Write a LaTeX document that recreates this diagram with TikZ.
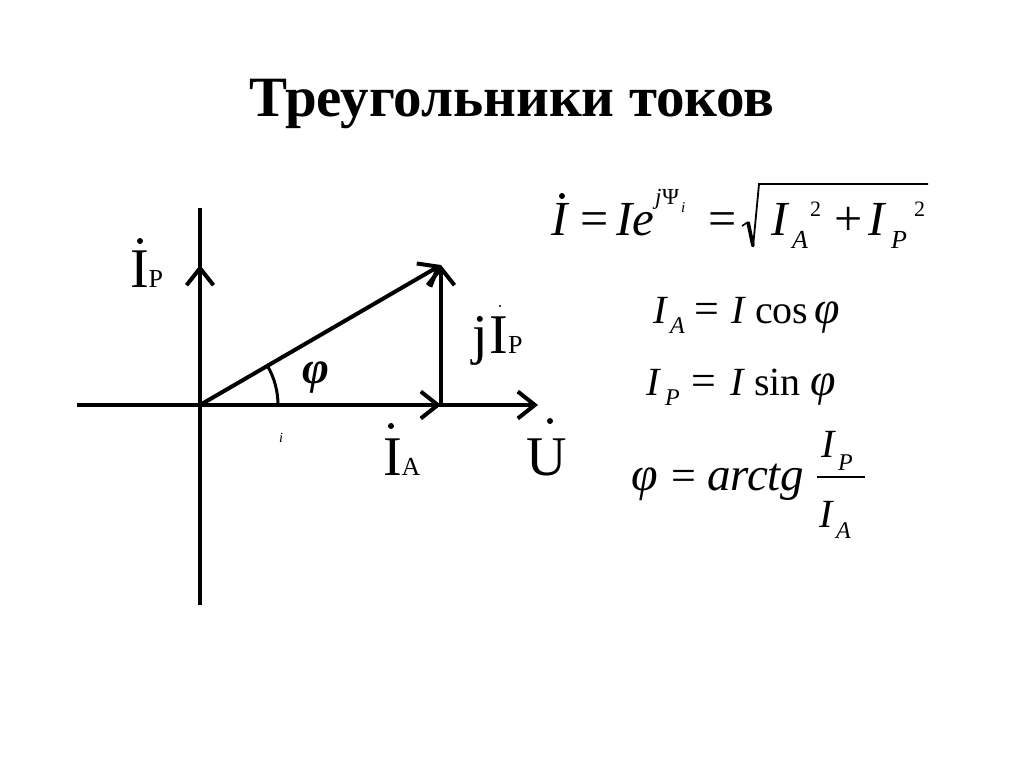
\documentclass[tikz,border=0pt]{standalone}
\usepackage{fontspec}
\setmainfont{Liberation Serif}
\usetikzlibrary{arrows.meta}
\newcount\tkn
\newcommand\tk[5][]{\global\advance\tkn by 1\relax
  \node[tok,font=\fontsize{#4}{#4}\selectfont#1] (tok\the\tkn) at (#2,#3) {#5};}
\begin{document}
\begin{tikzpicture}[x=1pt,y=-1pt,
  tok/.style={inner sep=0pt,outer sep=0pt,anchor=base west},
  ax/.style={line width=4pt},
  arr/.style={line width=4pt,-{Straight Barb[length=17pt,width=27pt]}},
  dotmark/.style={fill=black}]
\useasboundingbox (0,0) rectangle (1024,767);
% title
\node[inner sep=0pt,anchor=base,font=\fontsize{57}{57}\selectfont\bfseries] (title) at (512,117) {Треугольники токов};
% diagram
\coordinate (O) at (200,405);
\coordinate (ytop) at (200,208);
\coordinate (ybot) at (200,605);
\coordinate (xl) at (77,405);
\coordinate (xr) at (538,405);
\coordinate (yarr) at (200,265);
\coordinate (A) at (441,405);
\coordinate (B) at (441,265);
\draw[ax] (ytop) -- (ybot);
\draw[arr] (xl) -- (xr);
\draw[arr] (O) -- (yarr);
\draw[arr] (O) -- (A);
\draw[arr] (A) -- (B);
\draw[arr] (O) -- (B);
\draw[line width=3pt] (278,405) arc[start angle=0,end angle=-30.2,radius=78];
% diagram labels
\tk{130}{287}{56}{I}
\tk{148.7}{287}{26}{P}
\fill[dotmark] (140,241) circle (3);
\tk{472}{353}{56}{j}
\tk{489}{353}{56}{I}
\tk{508}{353}{26}{P}
\fill[dotmark] (500,306) circle (1.2);
\tk{383}{475}{56}{I}
\tk{401.6}{475}{26}{A}
\fill[dotmark] (391,426) circle (3);
\tk{526}{475}{56}{U}
\fill[dotmark] (550,421) circle (3);
\tk[\bfseries\itshape]{302}{383}{46}{φ}
\tk[\itshape]{279}{442}{14}{i}
% formula 1
\tk[\itshape]{551}{236}{49}{I}
\fill[dotmark] (562,196) circle (3);
\tk{580}{236}{50}{=}
\tk[\itshape]{616}{236}{49}{Ie}
\tk[\itshape]{655}{205}{23}{j}
\tk{662}{205}{23}{Ψ}
\tk[\itshape]{681}{213}{15}{i}
\tk{708}{236}{50}{=}
\draw[line width=1.6pt] (742,226) -- (748,222);
\draw[line width=3.6pt] (748,222) -- (753,246);
\draw[line width=1.8pt,line join=miter] (753,247) -- (759,184) -- (928,184);
\tk[\itshape]{771}{236}{49}{I}
\tk[\itshape]{792}{248}{26}{A}
\tk{810}{217}{22}{2}
\tk{834}{236}{50}{+}
\tk[\itshape]{868}{236}{49}{I}
\tk[\itshape]{891}{248}{26}{P}
\tk{914}{217}{22}{2}
% formula 2
\tk[\itshape]{653}{323}{40}{I}
\tk[\itshape]{670}{333}{24}{A}
\tk{694}{323}{44}{=}
\tk[\itshape]{731}{323}{40}{I}
\tk{755}{323}{40}{cos}
\tk[\itshape]{814}{323}{46}{φ}
% formula 3
\tk[\itshape]{646}{395}{40}{I}
\tk[\itshape]{665}{405}{24}{P}
\tk{691}{395}{44}{=}
\tk[\itshape]{730}{395}{40}{I}
\tk{754}{395}{40}{sin}
\tk[\itshape]{810}{395}{46}{φ}
% formula 4
\tk[\itshape]{631}{490}{48}{φ}
\tk{671}{490}{44}{=}
\tk[\itshape]{707}{490}{47}{arctg}
\draw[line width=2pt] (817,477) -- (865,477);
\tk[\itshape]{821}{457}{40}{I}
\tk[\itshape]{838}{470}{24}{P}
\tk[\itshape]{819}{527}{40}{I}
\tk[\itshape]{836}{538}{24}{A}
\end{tikzpicture}
\end{document}
